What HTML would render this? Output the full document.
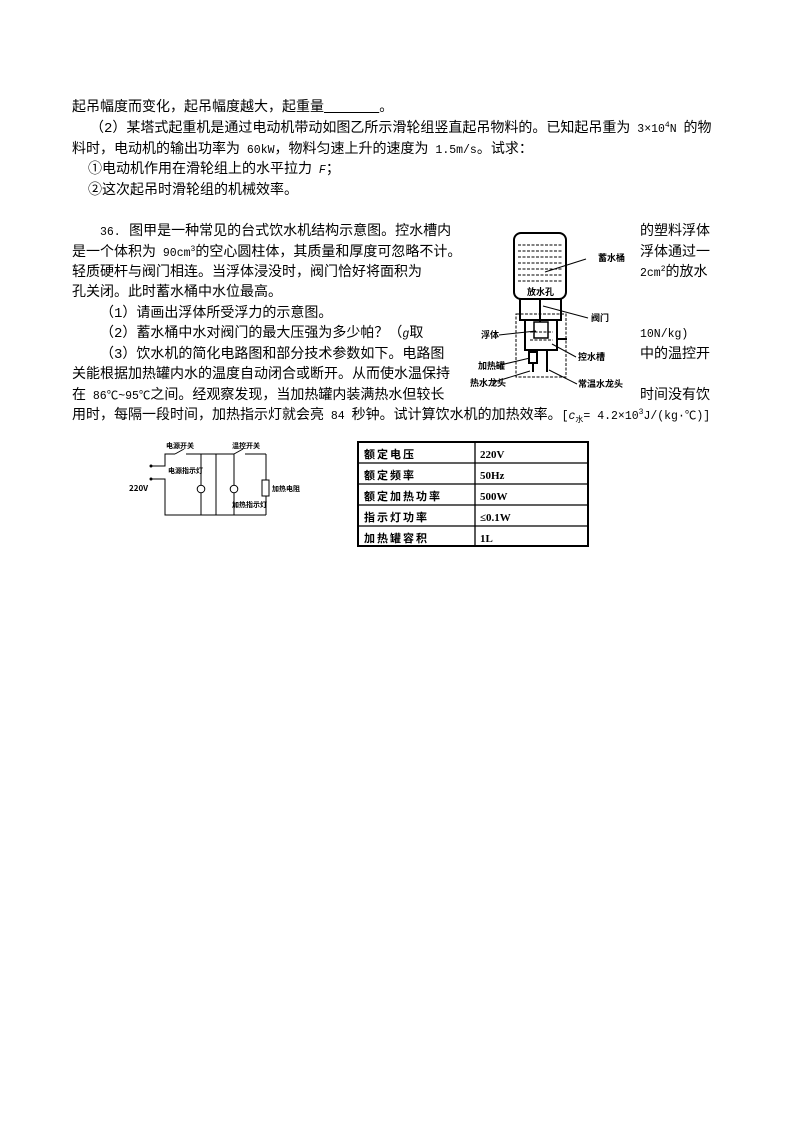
<!DOCTYPE html>
<html><head><meta charset="utf-8"><style>
body{margin:0;background:#fff;}
.pg{position:relative;width:794px;height:1123px;overflow:hidden;font-family:"Liberation Mono","Noto Sans CJK SC",monospace;font-size:14px;color:#000;}
.t{position:absolute;white-space:nowrap;line-height:14px;}
.l{font-size:11.5px;}
.t sup,.t sub{font-size:8px;line-height:0;vertical-align:baseline;position:relative;}
.t sup{top:-5px}.t sub{top:3px}
.s{font-size:9px;font-weight:bold;font-family:"Noto Sans CJK SC",sans-serif;position:absolute;white-space:nowrap;line-height:10px;}
</style></head><body><div class="pg">
<div class="t" style="left:72px;top:101px">起吊幅度而变化，起吊幅度越大，起重量<span style="text-decoration:underline" class="l">&nbsp;&nbsp;&nbsp;&nbsp;&nbsp;&nbsp;&nbsp;&nbsp;</span>。</div>
<div class="t" style="left:90px;top:122px">（2）某塔式起重机是通过电动机带动如图乙所示滑轮组竖直起吊物料的。已知起吊重为<span class="l"> 3×10<sup>4</sup>N </span>的物</div>
<div class="t" style="left:72px;top:143px">料时，电动机的输出功率为<span class="l"> 60kW</span>，物料匀速上升的速度为<span class="l"> 1.5m/s</span>。试求：</div>
<div class="t" style="left:88px;top:163px">①电动机作用在滑轮组上的水平拉力<span class="l"> <i>F</i></span>；</div>
<div class="t" style="left:88px;top:184px">②这次起吊时滑轮组的机械效率。</div>

<div class="t" style="left:100px;top:225px"><span class="l">36.</span> 图甲是一种常见的台式饮水机结构示意图。控水槽内</div>
<div class="t" style="left:72px;top:246px">是一个体积为<span class="l"> 90cm<sup>3</sup></span>的空心圆柱体，其质量和厚度可忽略不计。</div>
<div class="t" style="left:72px;top:266px">轻质硬杆与阀门相连。当浮体浸没时，阀门恰好将面积为</div>
<div class="t" style="left:72px;top:286px">孔关闭。此时蓄水桶中水位最高。</div>
<div class="t" style="left:100px;top:307px">（1）请画出浮体所受浮力的示意图。</div>
<div class="t" style="left:100px;top:327px">（2）蓄水桶中水对阀门的最大压强为多少帕？（<span class="l"><i>g</i></span>取</div>
<div class="t" style="left:100px;top:348px">（3）饮水机的简化电路图和部分技术参数如下。电路图</div>
<div class="t" style="left:72px;top:368px">关能根据加热罐内水的温度自动闭合或断开。从而使水温保持</div>
<div class="t" style="left:72px;top:389px">在<span class="l"> 86℃~95℃</span>之间。经观察发现，当加热罐内装满热水但较长</div>
<div class="t" style="left:72px;top:409px">用时，每隔一段时间，加热指示灯就会亮<span class="l"> 84 </span>秒钟。试计算饮水机的加热效率。<span class="l">[<i>c</i><sub>水</sub>= 4.2×10<sup>3</sup>J/(kg·℃)]</span></div>

<div class="t" style="left:640px;top:225px">的塑料浮体</div>
<div class="t" style="left:640px;top:246px">浮体通过一</div>
<div class="t" style="left:640px;top:266px"><span class="l">2cm<sup>2</sup></span>的放水</div>
<div class="t" style="left:640px;top:327px"><span class="l">10N/kg)</span></div>
<div class="t" style="left:640px;top:348px">中的温控开</div>
<div class="t" style="left:640px;top:389px">时间没有饮</div>

<svg style="position:absolute;left:0;top:0" width="794" height="1123">
<g fill="none" stroke="#000">
<rect x="514" y="233" width="52" height="66" rx="7" stroke-width="2"/>
<g stroke-dasharray="3,1.5" stroke-width="1">
<line x1="518" y1="245" x2="562" y2="245"/><line x1="518" y1="251" x2="562" y2="251"/>
<line x1="518" y1="257" x2="562" y2="257"/><line x1="518" y1="263" x2="562" y2="263"/>
<line x1="518" y1="269" x2="562" y2="269"/><line x1="518" y1="275" x2="562" y2="275"/>
<line x1="518" y1="281" x2="562" y2="281"/>
<rect x="516" y="314" width="50" height="63"/>
<line x1="530" y1="332" x2="553" y2="332"/><line x1="530" y1="340" x2="553" y2="340"/>
</g>
<rect x="520" y="299" width="41" height="21" stroke-width="2"/>
<rect x="525" y="320" width="32" height="30" stroke-width="2"/>
<rect x="534" y="322" width="14" height="16" stroke-width="1.5"/>
<line x1="540" y1="300" x2="540" y2="322" stroke-width="2"/>
<polyline points="557,322 557,339 567,339" stroke-width="2"/>
<rect x="529" y="352" width="8" height="11" stroke-width="2"/>
<line x1="533" y1="363" x2="533" y2="372" stroke-width="2"/>
<line x1="547" y1="350" x2="547" y2="372" stroke-width="2"/>
<g stroke-width="1">
<line x1="586" y1="259" x2="545" y2="272"/>
<line x1="588" y1="318" x2="543" y2="306"/>
<line x1="499" y1="335" x2="536" y2="331"/>
<line x1="576" y1="357" x2="552" y2="344"/>
<line x1="496" y1="366" x2="530" y2="358"/>
<line x1="494" y1="382" x2="530" y2="371"/>
<line x1="577" y1="384" x2="549" y2="370"/>
</g>
</g>
<text x="527" y="295" font-size="9" font-weight="bold" font-family="Noto Sans CJK SC,sans-serif">放水孔</text>

<g fill="none" stroke="#000" stroke-width="1">
<polyline points="152,466 165,466 165,454 175,454"/><line x1="175" y1="454" x2="184" y2="449"/>
<line x1="186" y1="454" x2="216" y2="454"/>
<line x1="216" y1="454" x2="216" y2="515"/>
<line x1="216" y1="454" x2="234" y2="454"/><line x1="234" y1="454" x2="243" y2="449"/>
<line x1="245" y1="454" x2="266" y2="454"/>
<line x1="266" y1="454" x2="266" y2="480"/>
<line x1="266" y1="496" x2="266" y2="515"/>
<line x1="234" y1="454" x2="234" y2="485"/>
<line x1="234" y1="493" x2="234" y2="515"/>
<line x1="201" y1="454" x2="201" y2="485"/>
<line x1="201" y1="493" x2="201" y2="515"/>
<polyline points="152,479 165,479 165,515 266,515"/>
<rect x="262" y="480" width="7" height="16"/>
<circle cx="201" cy="489" r="3.8"/><circle cx="234" cy="489" r="3.8"/>
<circle cx="151" cy="466" r="1" fill="#000"/><circle cx="151" cy="479" r="1" fill="#000"/>
</g>
<rect x="358" y="442" width="230" height="104" fill="none" stroke="#000" stroke-width="2"/>
<g stroke="#000" stroke-width="1.3">
<line x1="475" y1="442" x2="475" y2="546"/>
<line x1="358" y1="463" x2="588" y2="463"/><line x1="358" y1="484" x2="588" y2="484"/>
<line x1="358" y1="505" x2="588" y2="505"/><line x1="358" y1="526" x2="588" y2="526"/>
</g>
<g font-size="11" font-weight="bold" font-family="Liberation Serif,Noto Sans CJK SC,serif">
<text x="364" y="458" letter-spacing="2">额定电压</text><text x="480" y="458">220V</text>
<text x="364" y="479" letter-spacing="2">额定频率</text><text x="480" y="479">50Hz</text>
<text x="364" y="500" letter-spacing="2">额定加热功率</text><text x="480" y="500">500W</text>
<text x="364" y="521" letter-spacing="2">指示灯功率</text><text x="480" y="521">≤0.1W</text>
<text x="364" y="542" letter-spacing="2">加热罐容积</text><text x="480" y="542">1L</text>
</g>
</svg>
<div class="s" style="left:598px;top:253px">蓄水桶</div>
<div class="s" style="left:591px;top:313px">阀门</div>
<div class="s" style="left:481px;top:330px">浮体</div>
<div class="s" style="left:578px;top:352px">控水槽</div>
<div class="s" style="left:478px;top:361px">加热罐</div>
<div class="s" style="left:470px;top:378px">热水龙头</div>
<div class="s" style="left:578px;top:379px">常温水龙头</div>
<div class="s" style="left:166px;top:441px;font-size:7px">电源开关</div>
<div class="s" style="left:232px;top:441px;font-size:7px">温控开关</div>
<div class="s" style="left:168px;top:466px;font-size:7px">电源指示灯</div>
<div class="s" style="left:232px;top:500px;font-size:7px">加热指示灯</div>
<div class="s" style="left:272px;top:484px;font-size:7px">加热电阻</div>
<div class="s" style="left:129px;top:484px;font-size:8px">220V</div>
</div></body></html>
